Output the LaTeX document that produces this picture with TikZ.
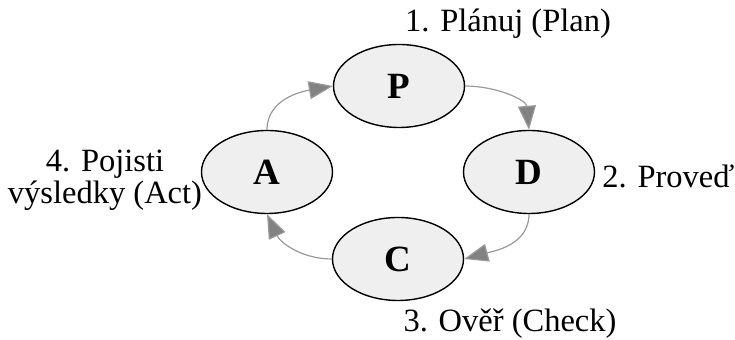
\documentclass[tikz,border=0pt]{standalone}
\usepackage{fontspec}
\setmainfont{Liberation Serif}
\usepackage{xcolor}
\usetikzlibrary{arrows.meta}

\definecolor{phase}{HTML}{EFEFEF}
\definecolor{flow}{HTML}{999999}

\tikzset{
  phasenode/.style={ellipse, draw=black, line width=0.7pt, fill=phase,
    minimum width=65.5pt, minimum height=41.5pt, inner sep=0pt,
    font=\fontsize{18.5}{20}\selectfont\bfseries},
  phaselabel/.style={font=\fontsize{16.25}{14.5}\selectfont, inner sep=0pt},
  flowarrow/.style={draw=flow, line width=0.6pt,
    -{Triangle[length=12pt,width=9pt,fill=flow!85!black]}}
}
\usetikzlibrary{shapes.geometric}

\begin{document}
\begin{tikzpicture}[x=0.5pt,y=-0.5pt]
\useasboundingbox (0,0) rectangle (735,340);
% the four phases
\node[phasenode] (plan) at (399,86) {P};
\node[phasenode] (act) at (267,172) {A};
\node[phasenode] (do) at (529,172) {D};
\node[phasenode] (check) at (398,259) {C};
% cycle
\draw[flowarrow] (act.north) to[out=90,in=190] (plan.west);
\draw[flowarrow] (plan.east) to[out=0,in=95] (do.north);
\draw[flowarrow] (do.south) to[out=-90,in=15] (check.east);
\draw[flowarrow] (check.west) to[out=180,in=-65] (act.south);
% labels
\node[phaselabel, anchor=base] (planlbl) at (508,32) {1. Plánuj (Plan)};
\node[phaselabel, anchor=base west] (dolbl) at (602,188) {2. Proveď};
\node[phaselabel, anchor=base] (checklbl) at (510,332) {3. Ověř (Check)};
\node[phaselabel, align=center] (actlbl) at (105,180) {4. Pojisti\\výsledky (Act)};
\end{tikzpicture}
\end{document}
